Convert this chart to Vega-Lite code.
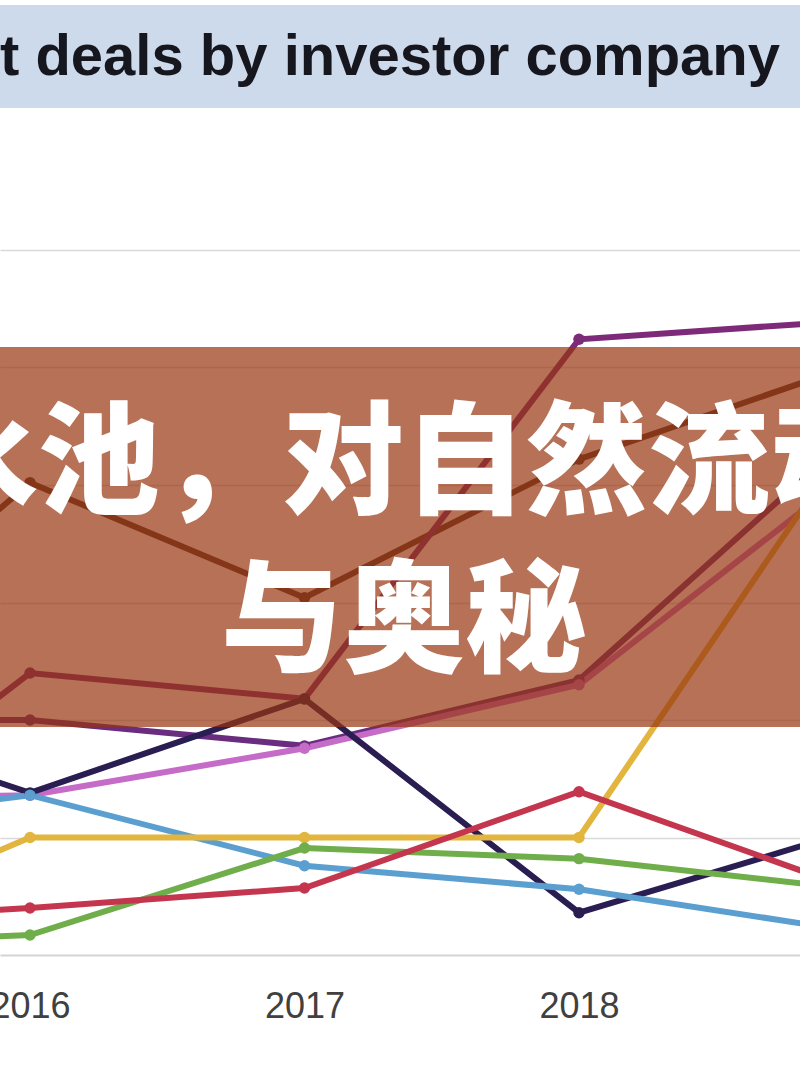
{
  "$schema": "https://vega.github.io/schema/vega-lite/v6.json",
  "width": 800,
  "height": 705,
  "autosize": {"type": "none"},
  "padding": {"top": 250, "bottom": 125, "left": 0, "right": 0},
  "background": "white",
  "config": {"view": {"stroke": null}},
  "datasets": {
    "deals": [
      {"company": "A", "year": 2015, "deals": 10.0},
      {"company": "A", "year": 2016, "deals": 20.1},
      {"company": "A", "year": 2017, "deals": 15.2},
      {"company": "A", "year": 2018, "deals": 21.1},
      {"company": "A", "year": 2019, "deals": 25.1},
      {"company": "B", "year": 2015, "deals": 3.0},
      {"company": "B", "year": 2016, "deals": 12.0},
      {"company": "B", "year": 2017, "deals": 10.9},
      {"company": "B", "year": 2018, "deals": 26.2},
      {"company": "B", "year": 2019, "deals": 27.0},
      {"company": "C", "year": 2015, "deals": 10.0},
      {"company": "C", "year": 2016, "deals": 10.0},
      {"company": "C", "year": 2017, "deals": 8.9},
      {"company": "C", "year": 2018, "deals": 11.7},
      {"company": "C", "year": 2019, "deals": 22.2},
      {"company": "D", "year": 2015, "deals": 6.6},
      {"company": "D", "year": 2016, "deals": 6.8},
      {"company": "D", "year": 2017, "deals": 8.8},
      {"company": "D", "year": 2018, "deals": 11.5},
      {"company": "D", "year": 2019, "deals": 20.6},
      {"company": "E", "year": 2015, "deals": 10.8},
      {"company": "E", "year": 2016, "deals": 6.9},
      {"company": "E", "year": 2017, "deals": 10.9},
      {"company": "E", "year": 2018, "deals": 1.8},
      {"company": "E", "year": 2019, "deals": 5.3},
      {"company": "F", "year": 2015, "deals": 5.3},
      {"company": "F", "year": 2016, "deals": 6.8},
      {"company": "F", "year": 2017, "deals": 3.8},
      {"company": "F", "year": 2018, "deals": 2.8},
      {"company": "F", "year": 2019, "deals": 1.0},
      {"company": "G", "year": 2015, "deals": 0.0},
      {"company": "G", "year": 2016, "deals": 5.0},
      {"company": "G", "year": 2017, "deals": 5.0},
      {"company": "G", "year": 2018, "deals": 5.0},
      {"company": "G", "year": 2019, "deals": 22.2},
      {"company": "H", "year": 2015, "deals": 0.4},
      {"company": "H", "year": 2016, "deals": 0.85},
      {"company": "H", "year": 2017, "deals": 4.55},
      {"company": "H", "year": 2018, "deals": 4.1},
      {"company": "H", "year": 2019, "deals": 2.8},
      {"company": "I", "year": 2015, "deals": 1.3},
      {"company": "I", "year": 2016, "deals": 2.0},
      {"company": "I", "year": 2017, "deals": 2.85},
      {"company": "I", "year": 2018, "deals": 6.95},
      {"company": "I", "year": 2019, "deals": 2.8}
    ],
    "titleBand": [
      {"label": "t deals by investor company", "top": 40.43, "bottom": 36.04, "baseline": 37.45}
    ],
    "overlay": [
      {"caption": "水池，对自然流动\n与奥秘", "top": 25.87, "bottom": 9.7, "firstLine": 20.75}
    ]
  },
  "layer": [
    {
      "data": {"name": "deals"},
      "mark": {"type": "line", "strokeWidth": 6, "clip": true},
      "encoding": {
        "x": {
          "field": "year", "type": "quantitative",
          "scale": {"domain": [2015.8907, 2018.8051], "nice": false, "zero": false},
          "axis": {
            "values": [2016, 2017, 2018], "format": "d", "title": null,
            "grid": false, "ticks": false, "labelFlush": false,
            "labelFont": "Liberation Sans", "labelFontSize": 36, "labelColor": "#404040",
            "labelPadding": 34, "domainColor": "#d4d4d4", "domainWidth": 2
          }
        },
        "y": {
          "field": "deals", "type": "quantitative",
          "scale": {"domain": [0, 30], "nice": false, "zero": false},
          "axis": {
            "values": [5, 10, 15, 20, 25, 30], "labels": false, "ticks": false,
            "domain": false, "title": null, "gridColor": "#d9d9d9", "gridWidth": 1.5
          }
        },
        "color": {
          "field": "company", "type": "nominal", "legend": null,
          "scale": {
            "domain": ["A", "B", "C", "D", "E", "F", "G", "H", "I"],
            "range": ["#5b3b2e", "#7d2b78", "#6a2c7e", "#c56bc8", "#2a1d52", "#5a9fd0", "#e2b53e", "#6fae4a", "#c4364e"]
          }
        }
      }
    },
    {
      "data": {"name": "deals"},
      "mark": {"type": "point", "filled": true, "size": 130, "opacity": 1, "clip": true},
      "encoding": {
        "x": {"field": "year", "type": "quantitative"},
        "y": {"field": "deals", "type": "quantitative"},
        "color": {"field": "company", "type": "nominal", "legend": null}
      }
    },
    {
      "data": {"name": "overlay"},
      "mark": {"type": "rect", "color": "#973410", "opacity": 0.7, "clip": false},
      "encoding": {
        "y": {"field": "top", "type": "quantitative"},
        "y2": {"field": "bottom"}
      }
    },
    {
      "data": {"name": "overlay"},
      "mark": {
        "type": "text", "font": "Noto Sans CJK SC", "fontWeight": 900, "fontSize": 122,
        "color": "white", "align": "center", "baseline": "middle",
        "lineBreak": "\n", "lineHeight": 158, "dx": 4
      },
      "encoding": {
        "y": {"field": "firstLine", "type": "quantitative"},
        "text": {"field": "caption"}
      }
    },
    {
      "data": {"name": "titleBand"},
      "mark": {"type": "rect", "color": "#cddaeb", "clip": false},
      "encoding": {
        "y": {"field": "top", "type": "quantitative"},
        "y2": {"field": "bottom"}
      }
    },
    {
      "data": {"name": "titleBand"},
      "mark": {
        "type": "text", "font": "Liberation Sans", "fontWeight": "bold", "fontSize": 58,
        "color": "#16161f", "align": "center", "baseline": "alphabetic", "dx": -10, "clip": false
      },
      "encoding": {
        "y": {"field": "baseline", "type": "quantitative"},
        "text": {"field": "label"}
      }
    }
  ]
}
